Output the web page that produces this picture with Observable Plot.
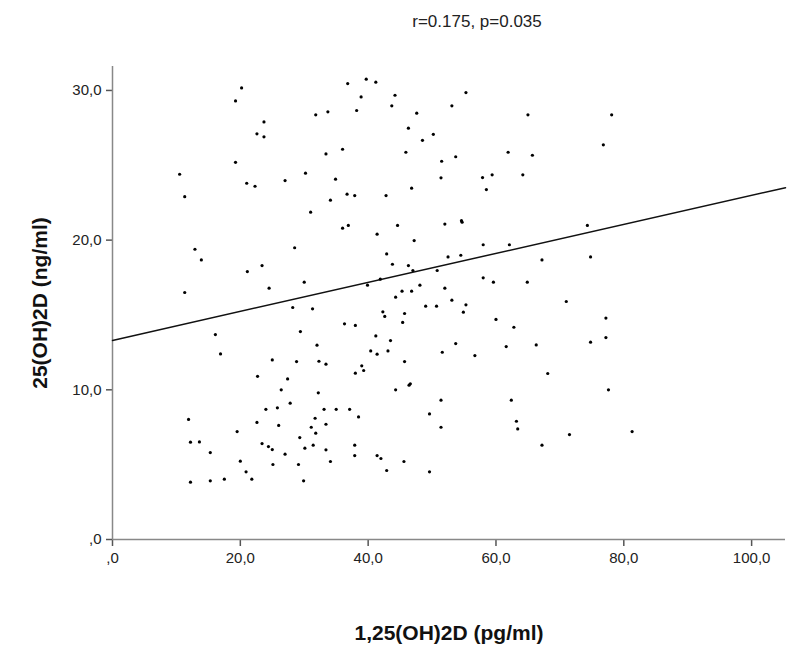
<!DOCTYPE html>
<html><head><meta charset="utf-8">
<script src="https://cdn.jsdelivr.net/npm/d3@7"></script>
<script src="https://cdn.jsdelivr.net/npm/@observablehq/plot@0.6"></script>
<style>body{margin:0;background:#fff}svg{display:block}</style>
</head><body><div id="chart"></div>
<script>
const titleText = "r=0.175, p=0.035";
const xLabel = "1,25(OH)2D (pg/ml)";
const yLabel = "25(OH)2D (ng/ml)";
const xTicks = [0, 20, 40, 60, 80, 100];
const yTicks = [0, 10, 20, 30];
const xDomain = [0, 105.3];
const yDomain = [0, 31.6];
// fitted line as drawn in the reference (intercept, slope)
const fitIntercept = 13.3;
const fitSlope = 0.0969;

// 1,25(OH)2D values (pg/ml)
const vitD125 = [
20.2,19.25,23.7,22.6,23.7,19.25,10.5,21.0,22.3,11.3,
36.8,39.7,41.2,38.9,44.2,43.7,31.8,33.7,38.2,47.6,46.3,50.2,48.5,36.0,33.4,45.9,51.5,30.2,27.0,34.9,51.4,46.8,36.7,37.9,42.8,34.1,31.0,
55.3,53.1,65.0,78.1,76.8,61.9,65.7,53.7,57.9,59.4,64.2,58.5,54.6,54.7,
12.9,13.9,21.1,23.4,24.5,11.3,16.1,16.9,25.0,22.7,
36.0,36.9,41.4,44.6,47.2,52.0,28.5,42.9,52.5,43.8,46.3,47.0,50.8,30.0,41.9,39.9,48.1,45.3,46.8,52.0,44.3,28.2,31.3,49.0,50.7,42.3,42.6,45.7,45.4,36.3,38.0,29.4,41.2,43.5,32.0,40.4,41.4,43.1,51.6,28.8,32.3,33.4,45.7,39.0,39.3,38.0,27.4,
74.3,58.0,62.1,54.5,67.2,74.8,58.0,59.6,64.9,53.1,55.3,54.9,71.0,60.0,77.2,62.8,53.7,61.6,66.3,74.8,77.2,56.7,68.1,
24.0,25.8,11.9,22.6,26.0,19.5,12.2,13.6,23.4,24.4,25.0,15.3,20.0,25.1,20.9,12.2,15.3,17.5,21.8,
26.4,32.2,44.3,46.4,46.6,51.4,27.8,33.1,35.0,37.1,38.5,49.6,31.7,33.4,31.1,31.8,51.4,29.3,30.1,31.4,33.4,37.9,37.9,27.0,41.4,42.0,45.6,29.1,34.1,42.9,49.6,29.9,
62.4,77.6,63.2,63.4,71.5,67.2,81.3
];
// 25(OH)2D values (ng/ml)
const vitD25 = [
30.17,29.3,27.9,27.1,26.9,25.2,24.4,23.8,23.6,22.9,
30.46,30.75,30.55,29.57,29.68,28.97,28.37,28.57,28.66,28.48,27.48,27.07,26.67,26.07,25.76,25.87,25.27,24.47,23.98,24.07,24.16,23.47,23.07,22.98,22.98,22.67,21.87,
29.86,28.97,28.37,28.37,26.37,25.87,25.67,25.57,24.18,24.36,24.36,23.38,21.3,21.2,
19.39,18.68,17.9,18.3,16.79,16.5,13.69,12.4,12.0,10.9,
20.8,20.98,20.4,20.98,19.97,21.07,19.49,19.08,18.88,18.39,18.3,17.97,17.97,17.19,17.39,16.99,16.99,16.59,16.59,16.79,16.19,15.5,15.41,15.59,15.59,15.21,14.9,15.1,14.5,14.41,14.3,13.89,13.6,13.29,12.98,12.6,12.38,12.6,12.51,11.89,11.91,11.71,11.89,11.6,11.29,11.11,10.73,
20.98,19.69,19.69,18.99,18.68,18.88,17.48,17.19,17.19,15.99,15.68,15.19,15.9,14.7,14.79,14.18,13.09,12.89,13.0,13.18,13.49,12.29,11.09,
8.7,8.8,8.02,7.82,7.62,7.21,6.5,6.52,6.41,6.21,6.01,5.81,5.23,5.01,4.52,3.83,3.92,4.03,4.03,
10.0,9.8,10.0,10.31,10.4,9.31,9.11,8.7,8.7,8.7,8.19,8.39,8.1,7.7,7.5,7.1,7.5,6.81,6.1,6.3,5.99,6.3,5.61,5.7,5.61,5.41,5.21,5.01,5.21,4.61,4.52,3.92,
9.31,10.0,7.9,7.39,7.01,6.3,7.21
];

const points = vitD125.map((x, i) => ({x, y: vitD25[i]}));
const fit = xDomain.map(x => ({x, y: fitIntercept + fitSlope * x}));

const fmt = d => d === 0 ? ",0" : d.toFixed(1).replace(".", ",");
const font = "Liberation Sans, Arial, sans-serif";

const chart = Plot.plot({
  width: 792,
  height: 654,
  marginLeft: 112,
  marginRight: 7,
  marginTop: 66,
  marginBottom: 115,
  style: {fontFamily: font, background: "#fff", color: "#222", fontSize: "15px"},
  x: {domain: xDomain},
  y: {domain: yDomain},
  marks: [
    Plot.axisX({ticks: xTicks, tickFormat: fmt, tickSize: 7, tickPadding: 6, fontSize: 15, stroke: "#555", strokeWidth: 1.5, label: null}),
    Plot.axisY({ticks: yTicks, tickFormat: fmt, tickSize: 6, tickPadding: 5, fontSize: 15, stroke: "#555", strokeWidth: 1.5, label: null}),
    Plot.ruleX([0], {stroke: "#888", strokeWidth: 1.5}),
    Plot.ruleY([0], {stroke: "#888", strokeWidth: 1.5}),
    Plot.line(fit, {x: "x", y: "y", stroke: "#111", strokeWidth: 1.5}),
    Plot.dot(points, {x: "x", y: "y", r: 1.6, fill: "#000", stroke: null}),
    Plot.text([titleText], {frameAnchor: "top", dx: 28, dy: -52, fontSize: 17, fill: "#222"}),
    Plot.text([xLabel], {frameAnchor: "bottom", dy: 100, fontSize: 21, fontWeight: "bold", fill: "#111"}),
    Plot.text([yLabel], {frameAnchor: "left", textAnchor: "middle", dx: -72, rotate: -90, fontSize: 21, fontWeight: "bold", fill: "#111"})
  ]
});
document.getElementById("chart").append(chart);
</script>
</body></html>
